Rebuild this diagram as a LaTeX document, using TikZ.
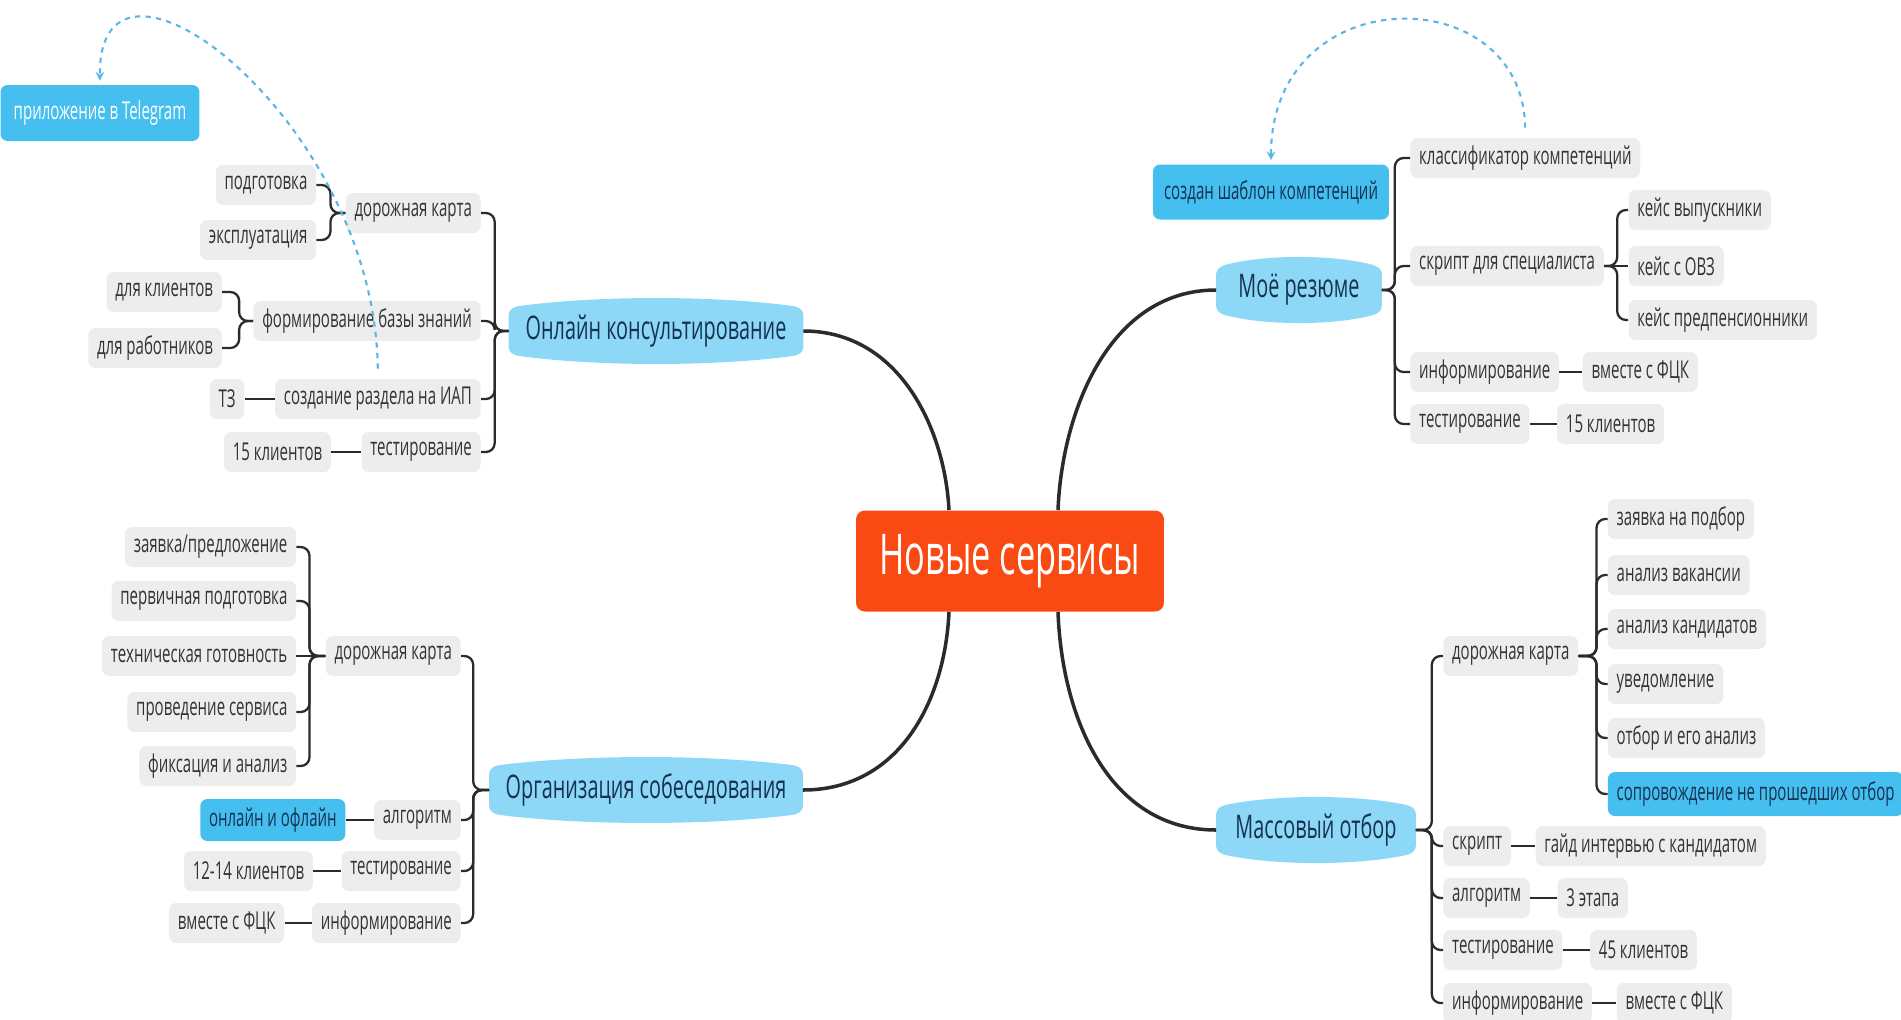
\documentclass[tikz,border=0pt]{standalone}
\usepackage{fontspec}
\setmainfont{Open Sans}[FakeStretch=0.61]
\usetikzlibrary{positioning,calc,backgrounds,arrows}

\definecolor{linec}{HTML}{2B2B2B}
\definecolor{itemfill}{HTML}{EDEDED}
\definecolor{itemtext}{HTML}{333333}
\definecolor{topicfill}{HTML}{8DD8F7}
\definecolor{topictext}{HTML}{15324F}
\definecolor{hifill}{HTML}{45BEF0}
\definecolor{rootfill}{HTML}{FA4A14}
\definecolor{dashc}{HTML}{5AB6E6}

% light blue topic shape drawn behind a node
\newcommand\topicbg[1]{%
  \fill[topicfill, rounded corners=2pt] let \p1=(#1.north west), \p2=(#1.south east) in
    ({\x1},{\y1-0.26cm}) -- ({\x1},{\y2+0.26cm}) -- ({\x1+0.12cm},{\y2+0.17cm})
    .. controls ({\x1+0.3*(\x2-\x1)},{\y2-0.057cm}) and ({\x2-0.3*(\x2-\x1)},{\y2-0.057cm}) .. ({\x2-0.12cm},{\y2+0.17cm})
    -- ({\x2},{\y2+0.26cm}) -- ({\x2},{\y1-0.26cm}) -- ({\x2-0.12cm},{\y1-0.17cm})
    .. controls ({\x2-0.3*(\x2-\x1)},{\y1+0.057cm}) and ({\x1+0.3*(\x2-\x1)},{\y1+0.057cm}) .. ({\x1+0.12cm},{\y1-0.17cm})
    -- cycle;}

\tikzset{
  item/.style={fill=itemfill, text=itemtext, rounded corners=4pt, inner xsep=5pt, inner ysep=0pt,
    minimum height=0.8cm, font=\fontsize{14}{16}\selectfont},
  hilite/.style={item, fill=hifill, text=topictext},
  topic/.style={text=topictext, inner sep=0pt, minimum height=1.3cm, font=\fontsize{18.5}{20}\selectfont},
  root/.style={fill=rootfill, text=white, rounded corners=5pt, minimum width=6.16cm,
    minimum height=2.02cm, font=\fontsize{32}{36}\selectfont},
  branch/.style={draw=linec, line width=1.3pt, rounded corners=5pt},
  trunk/.style={draw=linec, line width=2pt},
  link/.style={draw=dashc, dashed, line width=1.2pt, -stealth, shorten <=0.2cm, shorten >=0.08cm}
}

\begin{document}
\begin{tikzpicture}[x=0.02cm, y=-0.02cm]
  \useasboundingbox (0,0) rectangle (1901,1019);

  % centre and main topics
  \node[root] (centre) at (1010,561) {Новые сервисы};
  \node[topic, minimum width=5.88cm] (online) at (656,331) {Онлайн консультирование};
  \node[topic, minimum width=6.26cm] (meet) at (646,790) {Организация собеседования};
  \node[topic, minimum width=3.3cm] (resume) at (1299,290) {Моё резюме};
  \node[topic, minimum width=3.98cm] (mass) at (1316,830) {Массовый отбор};
  \begin{scope}[on background layer]
    \topicbg{online} \topicbg{meet} \topicbg{resume} \topicbg{mass}
  \end{scope}

  \draw[trunk] ($(centre.north)+(-61,0)$) .. controls (945,430) and (900,331) .. (online.east);
  \draw[trunk] ($(centre.north)+(48,0)$) .. controls (1062,410) and (1110,290) .. (resume.west);
  \draw[trunk] ($(centre.south)+(-61,0)$) .. controls (945,700) and (900,790) .. (meet.east);
  \draw[trunk] ($(centre.south)+(48,0)$) .. controls (1062,720) and (1110,830) .. (mass.west);

  % Онлайн консультирование
  \node[item, anchor=east] (road1) at (481,213) {дорожная карта};
  \node[item, anchor=east] (prep) at ($(road1.west)+(-29,-28)$) {подготовка};
  \node[item, anchor=east] (usage) at ($(road1.west)+(-29,27)$) {эксплуатация};
  \node[item, anchor=east] (base) at (481,321) {формирование базы знаний};
  \node[item, anchor=east] (forcli) at ($(base.west)+(-31,-29)$) {для клиентов};
  \node[item, anchor=east] (forstaff) at ($(base.west)+(-31,27)$) {для работников};
  \node[item, anchor=east] (section) at (481,399) {создание раздела на ИАП};
  \node[item, left=0.6cm of section] (spec) {ТЗ};
  \node[item, anchor=east] (test1) at (481,452) {тестирование};
  \node[item, left=0.6cm of test1] (cli1) {15 клиентов};
  \node[hilite, text=white, minimum width=3.98cm, minimum height=1.12cm] (tg) at (100,113) {приложение в Telegram};

  \draw[branch] (online.west) -- ++(-14,0) |- (road1.east);
  \draw[branch] (online.west) -- ++(-14,0) |- (base.east);
  \draw[branch] (online.west) -- ++(-14,0) |- (section.east);
  \draw[branch] (online.west) -- ++(-14,0) |- (test1.east);
  \draw[branch] (road1.west) -- ++(-15,0) |- (prep.east);
  \draw[branch] (road1.west) -- ++(-15,0) |- (usage.east);
  \draw[branch] (base.west) -- ++(-14,0) |- (forcli.east);
  \draw[branch] (base.west) -- ++(-14,0) |- (forstaff.east);
  \draw[branch] (spec.east) -- (section.west);
  \draw[branch] (cli1.east) -- (test1.west);
  \draw[link] (section.north) .. controls (375,120) and (98,-90) .. (tg.north);

  % Организация собеседования
  \node[item, anchor=east] (road2) at (461,656) {дорожная карта};
  \node[item, anchor=east] (appl) at ($(road2.west)+(-29,-109)$) {заявка/предложение};
  \node[item, anchor=east] (prim) at ($(road2.west)+(-29,-55)$) {первичная подготовка};
  \node[item, anchor=east] (tech) at ($(road2.west)+(-29,0)$) {техническая готовность};
  \node[item, anchor=east] (run) at ($(road2.west)+(-29,56)$) {проведение сервиса};
  \node[item, anchor=east] (fix) at ($(road2.west)+(-29,110)$) {фиксация и анализ};
  \node[item, anchor=east] (alg1) at (461,820) {алгоритм};
  \node[hilite, left=0.56cm of alg1, minimum width=2.8cm, minimum height=0.84cm] (mode) {онлайн и офлайн};
  \node[item, anchor=east] (test4) at (461,871) {тестирование};
  \node[item, left=0.56cm of test4] (cli4) {12-14 клиентов};
  \node[item, anchor=east] (inform2) at (461,923) {информирование};
  \node[item, left=0.54cm of inform2] (fck2) {вместе с ФЦК};

  \draw[branch] (meet.west) -- ++(-16,0) |- (road2.east);
  \draw[branch] (meet.west) -- ++(-16,0) |- (alg1.east);
  \draw[branch] (meet.west) -- ++(-16,0) |- (test4.east);
  \draw[branch] (meet.west) -- ++(-16,0) |- (inform2.east);
  \draw[branch] (road2.west) -- ++(-16,0) |- (appl.east);
  \draw[branch] (road2.west) -- ++(-16,0) |- (prim.east);
  \draw[branch] (road2.west) -- (tech.east);
  \draw[branch] (road2.west) -- ++(-16,0) |- (run.east);
  \draw[branch] (road2.west) -- ++(-16,0) |- (fix.east);
  \draw[branch] (mode.east) -- (alg1.west);
  \draw[branch] (cli4.east) -- (test4.west);
  \draw[branch] (fck2.east) -- (inform2.west);

  % Моё резюме
  \node[item, anchor=west] (classif) at (1410,158) {классификатор компетенций};
  \node[item, anchor=west] (script1) at (1410,266) {скрипт для специалиста};
  \node[item, anchor=west] (grad) at ($(script1.east)+(24,-56)$) {кейс выпускники};
  \node[item, anchor=west] (ovz) at ($(script1.east)+(24,0)$) {кейс с ОВЗ};
  \node[item, anchor=west] (prepens) at ($(script1.east)+(24,54)$) {кейс предпенсионники};
  \node[item, anchor=west] (inform1) at (1410,372) {информирование};
  \node[item, right=0.46cm of inform1] (fck1) {вместе с ФЦК};
  \node[item, anchor=west] (test2) at (1410,424) {тестирование};
  \node[item, right=0.54cm of test2] (cli2) {15 клиентов};
  \node[hilite, minimum width=4.72cm, minimum height=1.1cm] (templ) at (1271,192) {создан шаблон компетенций};

  \draw[branch] (resume.east) -- ++(13,0) |- (classif.west);
  \draw[branch] (resume.east) -- ++(13,0) |- (script1.west);
  \draw[branch] (resume.east) -- ++(13,0) |- (inform1.west);
  \draw[branch] (resume.east) -- ++(13,0) |- (test2.west);
  \draw[branch] (script1.east) -- ++(13,0) |- (grad.west);
  \draw[branch] (script1.east) -- (ovz.west);
  \draw[branch] (script1.east) -- ++(13,0) |- (prepens.west);
  \draw[branch] (inform1.east) -- (fck1.west);
  \draw[branch] (test2.east) -- (cli2.west);
  \draw[link] (classif.north) .. controls (1523,-22) and (1271,-22) .. (templ.north);

  % Массовый отбор
  \node[item, anchor=west] (road3) at (1443,656) {дорожная карта};
  \node[item, anchor=west] (req) at ($(road3.east)+(29,-137)$) {заявка на подбор};
  \node[item, anchor=west] (vac) at ($(road3.east)+(29,-81)$) {анализ вакансии};
  \node[item, anchor=west] (cand) at ($(road3.east)+(29,-27)$) {анализ кандидатов};
  \node[item, anchor=west] (notif) at ($(road3.east)+(29,28)$) {уведомление};
  \node[item, anchor=west] (sel) at ($(road3.east)+(29,82)$) {отбор и его анализ};
  \node[hilite, anchor=west, minimum width=5.8cm, minimum height=0.88cm] (supp) at ($(road3.east)+(29,138)$) {сопровождение не прошедших отбор};
  \node[item, anchor=west] (script2) at (1443,846) {скрипт};
  \node[item, right=0.48cm of script2] (guide) {гайд интервью с кандидатом};
  \node[item, anchor=west] (alg2) at (1443,898) {алгоритм};
  \node[item, right=0.54cm of alg2] (stages) {3 этапа};
  \node[item, anchor=west] (test3) at (1443,950) {тестирование};
  \node[item, right=0.54cm of test3] (cli3) {45 клиентов};
  \node[item, anchor=west] (inform3) at (1443,1003) {информирование};
  \node[item, right=0.48cm of inform3] (fck3) {вместе с ФЦК};

  \draw[branch] (mass.east) -- ++(16,0) |- (road3.west);
  \draw[branch] (mass.east) -- ++(16,0) |- (script2.west);
  \draw[branch] (mass.east) -- ++(16,0) |- (alg2.west);
  \draw[branch] (mass.east) -- ++(16,0) |- (test3.west);
  \draw[branch] (mass.east) -- ++(16,0) |- (inform3.west);
  \draw[branch] (road3.east) -- ++(18,0) |- (req.west);
  \draw[branch] (road3.east) -- ++(18,0) |- (vac.west);
  \draw[branch] (road3.east) -- ++(18,0) |- (cand.west);
  \draw[branch] (road3.east) -- ++(18,0) |- (notif.west);
  \draw[branch] (road3.east) -- ++(18,0) |- (sel.west);
  \draw[branch] (road3.east) -- ++(18,0) |- (supp.west);
  \draw[branch] (script2.east) -- (guide.west);
  \draw[branch] (alg2.east) -- (stages.west);
  \draw[branch] (test3.east) -- (cli3.west);
  \draw[branch] (inform3.east) -- (fck3.west);
\end{tikzpicture}
\end{document}
